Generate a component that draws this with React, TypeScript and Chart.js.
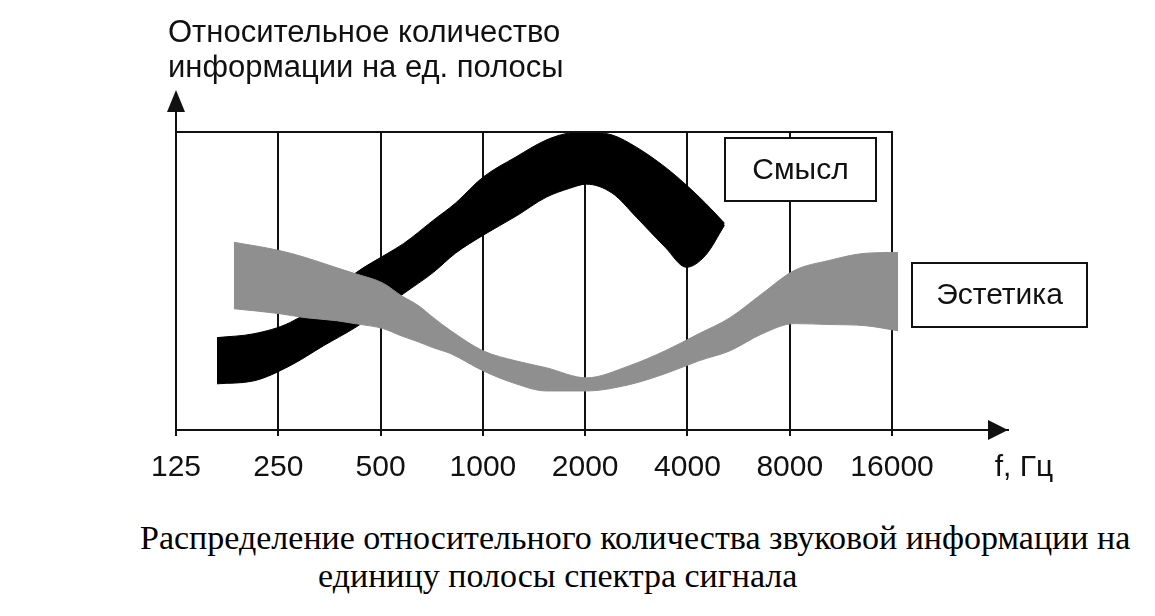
import React, { useEffect, useRef } from 'react';
import { Chart, registerables } from 'chart.js';

Chart.register(...registerables);

// ---- data ----
const FREQ_TICKS = [125, 250, 500, 1000, 2000, 4000, 8000, 16000];
const TICK_LABELS = ['125', '250', '500', '1000', '2000', '4000', '8000', '16000'];
const X_UNIT_LABEL = 'f, Гц';
const Y_TITLE = ['Относительное количество', 'информации на ед. полосы'];
const SERIES_NAMES = ['Смысл', 'Эстетика'];

// «Смысл» band (black): frequency, upper and lower edge
const SMYSL_FREQ = [165, 212, 270, 340, 420, 525, 585, 715, 830, 1000, 1250, 1535, 1800, 2015, 2400, 2830, 3440, 3970, 4520, 5140];
const SMYSL_UPPER = [31, 32.3, 36, 43.4, 52.5, 59.3, 62.6, 70.4, 76.1, 84.8, 91.6, 97.3, 99.7, 100, 99, 94.9, 88.2, 82.2, 76.1, 69.4];
const SMYSL_LOWER = [15.5, 16.5, 21.5, 28.3, 34.3, 41.8, 45.8, 52.9, 59.3, 65.3, 71.7, 78.1, 81.1, 82.5, 79.5, 71.4, 61.3, 54.6, 58.6, 68.7];

// «Эстетика» band (gray): frequency, upper and lower edge
const ESTETIKA_FREQ = [185, 250, 300, 370, 420, 510, 575, 645, 715, 805, 1000, 1250, 1535, 2015, 2690, 3440, 4320, 5340, 6640, 8240, 10450, 13360, 16660];
const ESTETIKA_UPPER = [63, 60.3, 57.9, 54.5, 52.5, 49.2, 45.1, 41.8, 37.7, 33.3, 26.6, 23.2, 20.9, 17.5, 21.5, 26.6, 32.3, 37.7, 45.8, 53.5, 56.9, 59.3, 59.6];
const ESTETIKA_LOWER = [40.7, 39.1, 37.7, 36.7, 35.7, 34, 31.6, 29.6, 27.6, 25.6, 19.9, 15.5, 13.1, 13.1, 15.2, 18.9, 23.2, 26.6, 32.3, 35.7, 35.4, 35, 33.3];

const CAPTION = ['Распределение относительного количества звуковой информации на', 'единицу полосы спектра сигнала'];

// ---- styling ----
const INK = '#111111';
const BLACK = '#000000';
const GRAY = '#8f8f8f';
const SANS = "'Liberation Sans', Arial, sans-serif";
const SERIF = "'Liberation Serif', 'Times New Roman', serif";
const X_MAX = 35100; // axis extends past 16000 up to the arrow tip
const Y_MAX = 100;
const TICK_LEN = 6;
const TICK_PAD = 14;
const LABEL_FONT = 30;

const LABEL_BOXES = [
  { x: 717, y: 130, w: 151, h: 63 },
  { x: 904, y: 255, w: 175, h: 64 },
];

const pts = (xs: number[], ys: number[]) => xs.map((x, i) => ({ x, y: ys[i] }));

export default function App() {
  const ref = useRef<HTMLCanvasElement>(null);

  useEffect(() => {
    const canvas = ref.current;
    if (!canvas) return;

    const framePlugin = {
      id: 'frame',
      afterDatasetsDraw(chart: any) {
        const { ctx, chartArea: a, scales } = chart;
        const xs = scales.x;
        const ys = scales.y;
        ctx.save();
        ctx.strokeStyle = INK;
        ctx.fillStyle = INK;
        ctx.lineWidth = 2;
        // top border of the grid box
        const top = ys.getPixelForValue(Y_MAX);
        const x0 = xs.getPixelForValue(FREQ_TICKS[0]);
        const x1 = xs.getPixelForValue(FREQ_TICKS[FREQ_TICKS.length - 1]);
        ctx.beginPath();
        ctx.moveTo(x0 - 1, top);
        ctx.lineTo(x1 + 1, top);
        ctx.stroke();
        // y axis extension with arrow
        ctx.beginPath();
        ctx.moveTo(a.left, a.top);
        ctx.lineTo(a.left, a.top - 24);
        ctx.stroke();
        ctx.beginPath();
        ctx.moveTo(a.left, a.top - 42);
        ctx.lineTo(a.left - 9, a.top - 20);
        ctx.lineTo(a.left + 9, a.top - 20);
        ctx.closePath();
        ctx.fill();
        // x axis arrow
        const b = a.bottom;
        ctx.beginPath();
        ctx.moveTo(a.right, b);
        ctx.lineTo(a.right - 20, b - 10);
        ctx.lineTo(a.right - 20, b + 10);
        ctx.closePath();
        ctx.fill();
        // unit label at the end of the x axis
        ctx.font = `${LABEL_FONT}px ${SANS}`;
        ctx.textAlign = 'center';
        ctx.textBaseline = 'middle';
        ctx.fillText(X_UNIT_LABEL, a.right + 16, xs.top + TICK_LEN + TICK_PAD + LABEL_FONT * 0.6);
        // series label boxes
        LABEL_BOXES.forEach((bx, i) => {
          ctx.fillStyle = '#ffffff';
          ctx.fillRect(bx.x, bx.y, bx.w, bx.h);
          ctx.strokeStyle = INK;
          ctx.lineWidth = 2;
          ctx.strokeRect(bx.x, bx.y, bx.w, bx.h);
          ctx.fillStyle = INK;
          ctx.fillText(SERIES_NAMES[i], bx.x + bx.w / 2, bx.y + bx.h / 2 + 1);
        });
        ctx.restore();
      },
    };

    const lineBase = {
      pointRadius: 0,
      borderWidth: 1,
      cubicInterpolationMode: 'monotone' as const,
    };

    const chart = new Chart(canvas, {
      type: 'line',
      data: {
        datasets: [
          { ...lineBase, label: SERIES_NAMES[1], data: pts(ESTETIKA_FREQ, ESTETIKA_UPPER), borderColor: GRAY, fill: false },
          { ...lineBase, label: SERIES_NAMES[1], data: pts(ESTETIKA_FREQ, ESTETIKA_LOWER), borderColor: GRAY, backgroundColor: GRAY, fill: '-1' },
          { ...lineBase, label: SERIES_NAMES[0], data: pts(SMYSL_FREQ, SMYSL_UPPER), borderColor: BLACK, fill: false },
          { ...lineBase, label: SERIES_NAMES[0], data: pts(SMYSL_FREQ, SMYSL_LOWER), borderColor: BLACK, backgroundColor: BLACK, fill: '-1' },
        ],
      },
      options: {
        responsive: false,
        animation: false,
        layout: { padding: { left: 160, right: 139, top: 0, bottom: 8 } },
        plugins: {
          legend: { display: false },
          tooltip: { enabled: false },
          title: {
            display: true,
            text: Y_TITLE,
            align: 'start',
            color: INK,
            font: { family: SANS, size: 31, weight: 'normal', lineHeight: 35 / 31 },
            padding: { top: 8, bottom: 46 },
          },
        },
        scales: {
          x: {
            type: 'logarithmic',
            min: FREQ_TICKS[0],
            max: X_MAX,
            afterBuildTicks: (s: any) => {
              s.ticks = FREQ_TICKS.map((v) => ({ value: v }));
            },
            grid: { color: INK, lineWidth: 2, drawTicks: true, tickLength: TICK_LEN },
            border: { display: true, color: INK, width: 2 },
            ticks: {
              autoSkip: false,
              maxRotation: 0,
              padding: TICK_PAD,
              color: INK,
              font: { family: SANS, size: LABEL_FONT },
              callback: (_v: any, i: number) => TICK_LABELS[i],
            },
          },
          y: {
            min: 0,
            max: Y_MAX,
            afterFit: (s: any) => {
              s.width = 8;
            },
            grid: { display: false },
            border: { display: true, color: INK, width: 2 },
            ticks: { display: false },
          },
        },
      },
      plugins: [framePlugin],
    });

    return () => chart.destroy();
  }, []);

  return (
    <div style={{ position: 'relative', width: 1139, height: 600, background: '#fff' }}>
      <canvas ref={ref} width={1139} height={500} style={{ display: 'block' }} />
      <div
        style={{
          position: 'absolute',
          left: 132,
          top: 511,
          fontFamily: SERIF,
          fontSize: 34,
          lineHeight: '38px',
          whiteSpace: 'nowrap',
          color: '#000',
        }}
      >
        <div>{CAPTION[0]}</div>
        <div style={{ marginLeft: 178 }}>{CAPTION[1]}</div>
      </div>
    </div>
  );
}
